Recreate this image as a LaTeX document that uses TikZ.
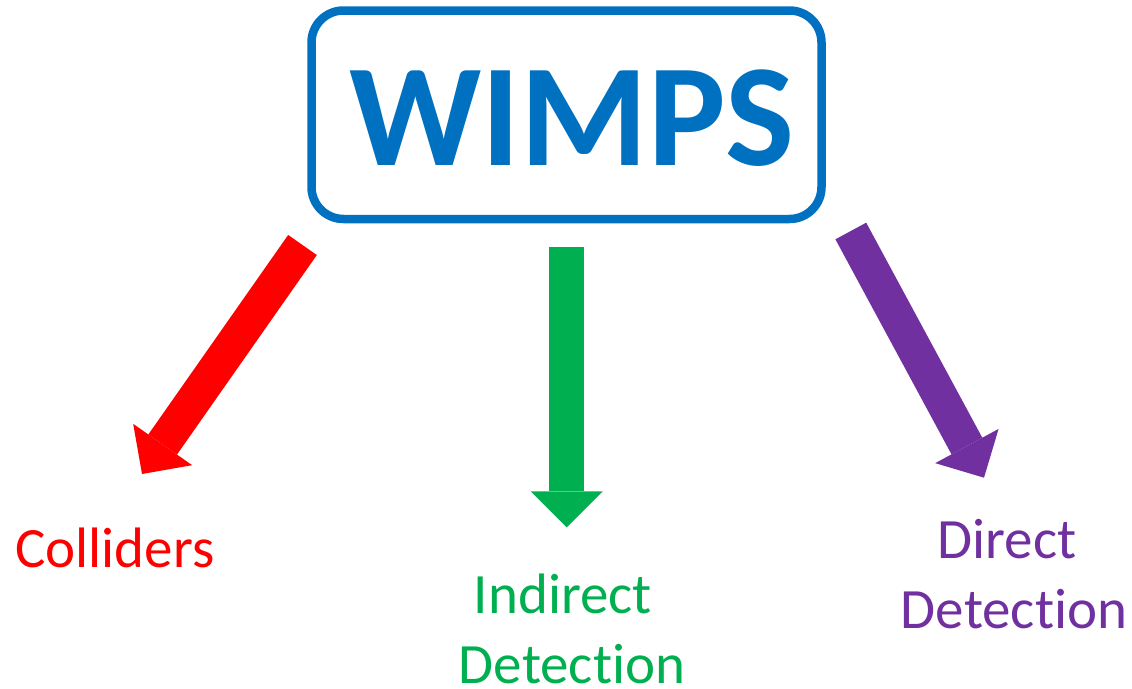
\documentclass[tikz,border=0pt]{standalone}
\usepackage{fontspec}
\setmainfont{Carlito}[Ligatures={NoCommon,NoContextual,NoRare}]
\usetikzlibrary{arrows.meta}
\definecolor{wblue}{HTML}{0070C0}
\definecolor{wred}{HTML}{FF0000}
\definecolor{wgreen}{HTML}{00B050}
\definecolor{wpurple}{HTML}{7030A0}
\tikzset{
  fatarrow/.style={line width=35pt, -{Triangle[length=36pt,width=72pt,line width=0pt]}},
  label/.style={font=\fontsize{57}{70}\selectfont, inner sep=0pt, align=center},
}
\begin{document}
\begin{tikzpicture}[x=1pt,y=-1pt]
\useasboundingbox (0,0) rectangle (1132,688);
\node[draw=wblue, line width=8.5pt, rounded corners=32pt, minimum width=510pt, minimum height=208.5pt, inner sep=0pt] (box) at (566.5,114.75) {};
\node[text=wblue, font=\fontsize{146}{160}\selectfont\bfseries, inner sep=0pt, anchor=base] (wimps) at (572,165) {WIMPS};
\coordinate (rs) at (302.5,245);
\coordinate (re) at (142,474);
\coordinate (gs) at (566.7,246.7);
\coordinate (ge) at (566.7,527.3);
\coordinate (ps) at (850.8,231);
\coordinate (pe) at (984,477.7);
\draw[fatarrow, wred] (rs) -- (re);
\draw[fatarrow, wgreen] (gs) -- (ge);
\draw[fatarrow, wpurple] (ps) -- (pe);
\node[label, text=wred, anchor=base] (coll) at (115,567) {Colliders};
\node[label, text=wgreen, anchor=base, text depth=0pt] (ind) at (572,683) {Indirect\kern18pt\\Detection};
\node[label, text=wpurple, anchor=base] (dir) at (1014,628) {Direct\kern14pt\\Detection};
\end{tikzpicture}
\end{document}
